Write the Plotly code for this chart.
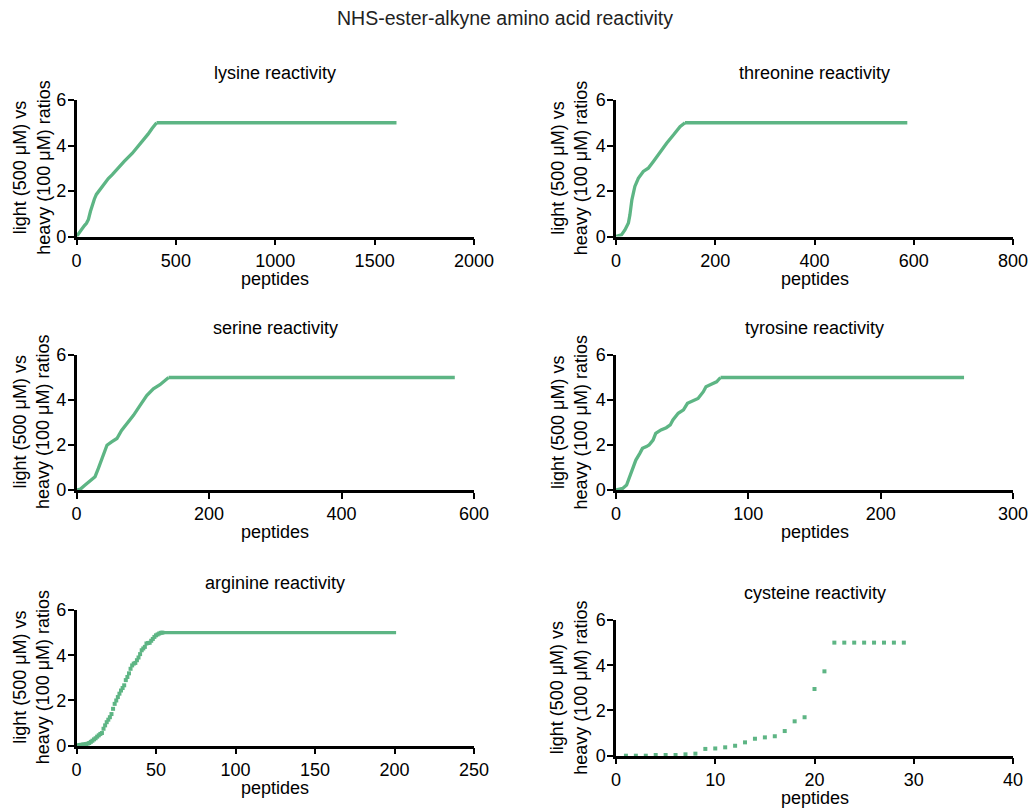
import plotly.graph_objects as go

# ---------------- data ----------------
# lysine: sorted ratio along the rising part (sampled peptide ranks), then capped plateau
lys_idx = [0, 10, 20, 30, 40, 50, 60, 70, 80, 90, 100, 120, 140, 160, 180, 200, 240, 280, 320, 360, 380, 403]
lys_val = [0, 0.12, 0.30, 0.40, 0.48, 0.58, 0.75, 1.10, 1.40, 1.65, 1.85, 2.10, 2.35, 2.55, 2.72, 2.92, 3.30, 3.65, 4.05, 4.50, 4.75, 5.0]
lys_total = 1610

thr_idx = [0, 11, 18, 25, 28, 32, 38, 45, 55, 65, 75, 89, 102, 116, 129, 139]
thr_val = [0, 0.07, 0.29, 0.59, 0.95, 1.61, 2.20, 2.56, 2.86, 3.00, 3.29, 3.73, 4.10, 4.47, 4.83, 5.0]
thr_total = 587

ser_idx = [0, 6, 13, 21, 28, 33, 41, 46, 53, 61, 68, 76, 86, 96, 106, 116, 126, 139]
ser_val = [0, 0.04, 0.22, 0.44, 0.59, 0.96, 1.55, 1.99, 2.14, 2.29, 2.65, 2.95, 3.32, 3.76, 4.20, 4.50, 4.68, 5.0]
ser_total = 571

tyr_idx = [0, 5, 8, 10, 13, 15, 18, 20, 23, 25, 28, 30, 34, 38, 41, 43, 47, 51, 54, 58, 62, 66, 68, 72, 76, 79]
tyr_val = [0, 0.07, 0.22, 0.52, 0.96, 1.33, 1.63, 1.85, 1.93, 2.00, 2.22, 2.52, 2.67, 2.77, 2.89, 3.11, 3.41,
           3.56, 3.85, 3.96, 4.07, 4.37, 4.59, 4.70, 4.81, 5.0]
tyr_total = 263

arg_idx = list(range(1, 55))
arg_val = [0.02, 0.03, 0.04, 0.05, 0.06, 0.07, 0.09, 0.12, 0.17, 0.22, 0.28, 0.33, 0.40, 0.46, 0.52, 0.56,
           0.75, 0.90, 1.04, 1.15, 1.26, 1.40, 1.63, 1.85, 2.00, 2.15, 2.30, 2.44, 2.55, 2.67, 2.90, 3.04,
           3.20, 3.40, 3.55, 3.63, 3.66, 3.78, 3.90, 4.05, 4.22, 4.30, 4.37, 4.52, 4.54, 4.55, 4.64, 4.72,
           4.81, 4.88, 4.92, 4.96, 4.99, 5.0]
arg_total = 201

cys_idx = list(range(1, 30))
cys_val = [0, 0, 0, 0.03, 0.03, 0.03, 0.06, 0.09, 0.30, 0.32, 0.37, 0.44, 0.59, 0.75, 0.81, 0.86, 1.09,
           1.52, 1.70, 2.95, 3.73, 5.0, 5.0, 5.0, 5.0, 5.0, 5.0, 5.0, 5.0]

cap_value = 5.0

titles = ["lysine reactivity", "threonine reactivity", "serine reactivity",
          "tyrosine reactivity", "arginine reactivity", "cysteine reactivity"]
x_max = [2000, 800, 600, 300, 250, 40]
x_dtick = [500, 200, 200, 100, 50, 10]
y_ticks = [0, 2, 4, 6]

# ---------------- style ----------------
GREEN = "#5db584"
FONT = "Arial, Liberation Sans, sans-serif"
W, H = 1031, 811

# pixel layout of plot areas: (left, right, top, bottom)
boxes = [(76.5, 474, 100, 236.5), (616, 1013, 100, 236.5),
         (76.5, 474, 355, 490), (616, 1013, 355, 490),
         (76.5, 474, 610, 745.7), (616, 1013, 620, 755.7)]

series = [
    ("line", lys_idx, lys_val, lys_total),
    ("line", thr_idx, thr_val, thr_total),
    ("line", ser_idx, ser_val, ser_total),
    ("line", tyr_idx, tyr_val, tyr_total),
    ("marker", arg_idx, arg_val, arg_total),
    ("marker", cys_idx, cys_val, None),
]

fig = go.Figure()
layout = dict(
    width=W, height=H, margin=dict(l=0, r=0, t=0, b=0, pad=0, autoexpand=False),
    paper_bgcolor="white", plot_bgcolor="white", showlegend=False,
    font=dict(family=FONT, size=18, color="black"), hovermode=False,
)
annotations = []

for i, (mode, xs, ys, total) in enumerate(series):
    suf = "" if i == 0 else str(i + 1)
    xa, ya = "x" + suf, "y" + suf
    if mode == "line":
        fig.add_trace(go.Scatter(x=xs, y=ys, mode="lines", xaxis=xa, yaxis=ya, cliponaxis=False,
                                 line=dict(color=GREEN, width=3.3)))
    else:
        fig.add_trace(go.Scatter(x=xs, y=ys, mode="markers", xaxis=xa, yaxis=ya, cliponaxis=False,
                                 marker=dict(color=GREEN, size=4, symbol="square", line=dict(width=0))))
    if total is not None:
        fig.add_trace(go.Scatter(x=[xs[-1], total], y=[cap_value, cap_value], mode="lines",
                                 xaxis=xa, yaxis=ya, cliponaxis=False,
                                 line=dict(color=GREEN, width=3.3)))

    l, r, t, b = boxes[i]
    common = dict(showgrid=False, zeroline=False, showline=True, linecolor="black", linewidth=2.5,
                  ticks="outside", ticklen=6, tickwidth=2.2, tickcolor="black", automargin=False,
                  tickfont=dict(family=FONT, size=18, color="black"), fixedrange=True)
    layout["xaxis" + suf] = dict(common, domain=[l / W, r / W], range=[0, x_max[i]],
                                 tickmode="linear", tick0=0, dtick=x_dtick[i],
                                 anchor=ya)
    layout["yaxis" + suf] = dict(common, domain=[1 - b / H, 1 - t / H], range=[0, 6],
                                 tickmode="array", tickvals=y_ticks, anchor=xa,
                                 ticklabelstandoff=-2)

    xd, yd = xa + " domain", ya + " domain"
    annotations.append(dict(text=titles[i], xref=xd, yref=yd, x=0.5, y=1, yshift=27,
                            xanchor="center", yanchor="middle", showarrow=False,
                            font=dict(family=FONT, size=18, color="black")))
    annotations.append(dict(text="peptides", xref=xd, yref=yd, x=0.5, y=0, yshift=-42,
                            xanchor="center", yanchor="middle", showarrow=False,
                            font=dict(family=FONT, size=18, color="black")))
    annotations.append(dict(text="light (500 \u03bcM) vs<br>heavy (100 \u03bcM) ratios",
                            xref=xd, yref=yd, x=0, y=0.5, xshift=-45 if i % 2 == 0 else -47,
                            xanchor="center", yanchor="middle", textangle=-90, showarrow=False,
                            font=dict(family=FONT, size=18, color="black")))

annotations.append(dict(text="NHS-ester-alkyne amino acid reactivity", xref="paper", yref="paper",
                        x=505 / W, y=1 - 18 / H, xanchor="center", yanchor="middle", showarrow=False,
                        font=dict(family=FONT, size=19.5, color="#222222")))
layout["annotations"] = annotations
fig.update_layout(**layout)
fig.write_html("out.html",
               post_script="document.body.style.margin='0';document.body.style.overflow='hidden';")
